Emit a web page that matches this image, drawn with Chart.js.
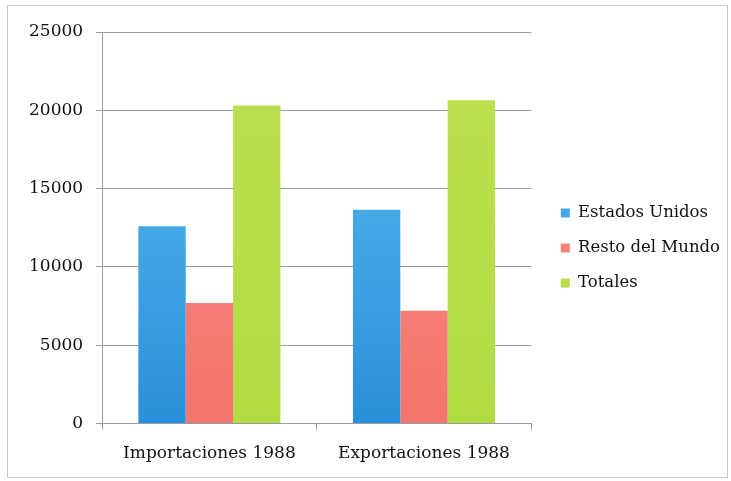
<!DOCTYPE html>
<html lang="es">
<head>
<meta charset="utf-8">
<script src="https://cdn.jsdelivr.net/npm/chart.js@4"></script>
<style>
    body { margin: 0; background: #fff; }
    #marco {
        position: absolute; left: 7px; top: 5px; width: 721px; height: 473px;
        border: 1px solid #c4c8c6; box-sizing: border-box;
    }
    #caja { position: absolute; left: 0; top: 0; width: 731px; height: 481px; }
</style>
</head>
<body>
<div id="marco"></div>
<div id="caja"><canvas id="grafico"></canvas></div>
<script>
"use strict";

// datos del comercio de 1988
const categorias = ["Importaciones 1988", "Exportaciones 1988"];
const estadosUnidos = [12600, 13650];
const restoDelMundo = [7700, 7200];
const totales = [20300, 20650];
const marcasEjeY = [0, 5000, 10000, 15000, 20000, 25000];

const familia = "'DejaVu Serif', serif";
const colorTexto = '#111';
const colorRejilla = '#9a9c9c';

// degradado vertical sobre el área del gráfico
function degradado(arriba, abajo) {
    return (context) => {
        const area = context.chart.chartArea;
        if (!area) return arriba;
        const g = context.chart.ctx.createLinearGradient(0, area.top, 0, area.bottom);
        g.addColorStop(0, arriba);
        g.addColorStop(1, abajo);
        return g;
    };
}

// sube un poco la leyenda respecto al centro del lienzo
const subirLeyenda = {
    id: 'subirLeyenda',
    afterLayout(chart) {
        if (chart.legend) {
            chart.legend.top -= 7;
            chart.legend.bottom -= 7;
        }
    }
};

const ctx = document.getElementById('grafico').getContext('2d');

const chartConfig = {
    type: 'bar',
    data: {
        labels: categorias,
        datasets: [
            {
                label: 'Estados Unidos',
                data: estadosUnidos,
                backgroundColor: degradado('#5ebff0', '#2a8fda'),
            },
            {
                label: 'Resto del Mundo',
                data: restoDelMundo,
                backgroundColor: degradado('#fb8c86', '#f4766e'),
            },
            {
                label: 'Totales',
                data: totales,
                backgroundColor: degradado('#bde052', '#b0dc42'),
            }
        ]
    },
    options: {
        responsive: true,
        maintainAspectRatio: false,
        animation: false,
        datasets: {
            bar: {
                categoryPercentage: 0.662,
                barPercentage: 1,
            }
        },
        layout: {
            padding: { left: 16, top: 32, right: 1, bottom: 3 }
        },
        scales: {
            x: {
                grid: {
                    display: true,
                    drawOnChartArea: false,
                    offset: true,
                    color: colorRejilla,
                    tickLength: 6,
                },
                border: { color: colorRejilla },
                ticks: {
                    color: colorTexto,
                    padding: 14,
                    font: { family: familia, size: 17 }
                }
            },
            y: {
                min: 0,
                max: 25000,
                afterBuildTicks: (axis) => {
                    axis.ticks = marcasEjeY.map(v => ({ value: v }));
                },
                grid: {
                    color: colorRejilla,
                    tickLength: 6,
                },
                border: { color: colorRejilla },
                ticks: {
                    color: colorTexto,
                    padding: 13,
                    font: { family: familia, size: 17 },
                    callback: (valor) => String(valor)
                }
            },
            // eje vacío a la derecha: separa la leyenda del área de barras
            hueco: {
                position: 'right',
                grid: { display: false },
                border: { display: false },
                ticks: { display: false },
                afterFit: (eje) => { eje.width = 11; }
            }
        },
        plugins: {
            legend: {
                position: 'right',
                align: 'center',
                maxWidth: 230,
                labels: {
                    color: colorTexto,
                    boxWidth: 9,
                    boxHeight: 9,
                    padding: 18.5,
                    font: { family: familia, size: 16.5 }
                }
            },
            tooltip: { enabled: false }
        }
    },
    plugins: [subirLeyenda]
};

new Chart(ctx, chartConfig);
</script>
</body>
</html>
